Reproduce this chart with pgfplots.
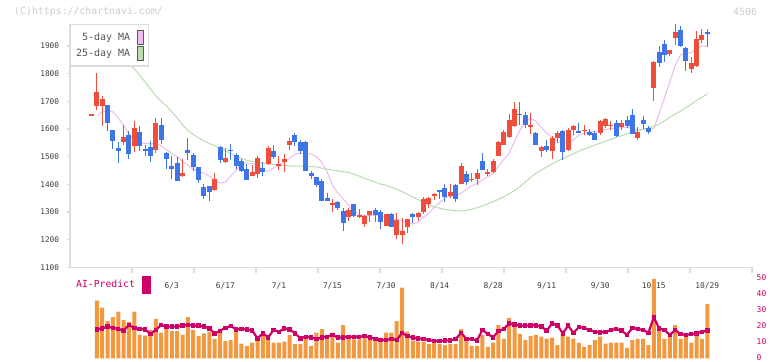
\documentclass[border=0pt]{standalone}
\usepackage{pgfplots}
\pgfplotsset{compat=1.18}
\usepackage{pgfplotstable}
\usepackage{fontspec}
\setmainfont{DejaVu Sans Mono}
\definecolor{cRed}{RGB}{240,78,60}
\definecolor{cBlue}{RGB}{62,118,232}
\definecolor{cOrange}{RGB}{242,152,62}
\definecolor{cMag}{RGB}{204,0,102}
\definecolor{cPink}{RGB}{236,188,236}
\definecolor{cGreen}{RGB}{182,222,172}
\definecolor{cPinkS}{RGB}{238,190,238}
\definecolor{cGreenS}{RGB}{188,222,176}
\definecolor{lgray}{RGB}{220,220,220}
\definecolor{tgray}{RGB}{60,60,60}
\definecolor{lgtext}{RGB}{85,85,85}
\definecolor{wm}{RGB}{204,204,204}

\pgfplotstableread{
i o h l c
0 1651 1654 1651 1654
1 1684 1804 1670 1735
2 1682 1721 1610 1709
6 1552 1616 1544 1573
8 1539 1630 1518 1605
12 1526 1640 1514 1622
17 1432 1490 1428 1440
23 1378 1440 1375 1418
25 1480 1532 1476 1497
30 1430 1470 1430 1444
31 1438 1504 1423 1494
33 1472 1538 1470 1530
35 1470 1504 1451 1473
36 1480 1509 1444 1490
37 1544 1568 1523 1558
45 1325 1346 1300 1332
48 1282 1316 1268 1308
50 1281 1310 1277 1288
51 1256 1288 1246 1286
52 1288 1304 1264 1304
55 1250 1292 1250 1292
57 1218 1296 1202 1270
58 1218 1277 1184 1231
59 1246 1274 1224 1274
61 1282 1302 1266 1296
62 1300 1356 1292 1346
63 1328 1356 1316 1350
64 1358 1368 1343 1364
67 1358 1400 1352 1374
69 1400 1476 1400 1466
71 1416 1442 1408 1420
72 1418 1454 1396 1442
74 1436 1454 1430 1444
75 1444 1490 1442 1486
76 1504 1556 1502 1554
77 1544 1598 1541 1591
78 1572 1655 1566 1634
79 1610 1698 1607 1673
82 1606 1658 1582 1616
84 1522 1538 1498 1536
86 1520 1574 1493 1568
87 1568 1592 1550 1584
89 1526 1604 1522 1598
90 1598 1615 1580 1610
92 1594 1613 1580 1597
95 1586 1634 1577 1628
96 1612 1640 1604 1637
97 1610 1630 1598 1616
99 1608 1631 1598 1622
102 1566 1608 1562 1590
105 1750 1846 1700 1844
108 1871 1886 1864 1886
109 1930 1978 1904 1949
112 1817 1859 1802 1840
113 1829 1954 1826 1925
114 1922 1961 1910 1940
}\redT

\pgfplotstableread{
i o h l c
3 1688 1688 1592 1622
4 1595 1597 1528 1556
5 1530 1554 1478 1520
7 1580 1592 1492 1509
9 1588 1610 1520 1540
10 1528 1544 1504 1520
11 1536 1556 1480 1502
13 1616 1640 1547 1562
14 1512 1516 1454 1490
15 1466 1502 1418 1455
16 1476 1500 1412 1412
18 1523 1568 1487 1514
19 1508 1514 1448 1464
20 1462 1463 1404 1416
21 1392 1400 1346 1358
22 1394 1394 1340 1372
24 1536 1540 1478 1487
26 1526 1547 1487 1522
27 1508 1514 1454 1468
28 1486 1490 1444 1450
29 1454 1472 1415 1416
32 1458 1480 1432 1444
34 1522 1544 1493 1498
38 1577 1585 1540 1552
39 1554 1560 1509 1522
40 1552 1556 1448 1448
41 1440 1448 1418 1430
42 1425 1425 1390 1398
43 1414 1418 1340 1340
44 1352 1368 1340 1340
46 1336 1340 1308 1314
47 1304 1314 1232 1262
49 1328 1328 1282 1286
53 1308 1315 1264 1288
54 1300 1307 1238 1264
56 1292 1298 1246 1246
60 1292 1298 1259 1282
65 1378 1378 1349 1372
66 1388 1402 1338 1355
68 1396 1402 1336 1349
70 1436 1448 1396 1408
73 1486 1512 1451 1451
80 1655 1696 1616 1652
81 1652 1662 1604 1616
83 1584 1588 1544 1544
85 1540 1562 1516 1526
88 1592 1598 1487 1516
91 1594 1622 1586 1586
93 1590 1601 1574 1580
94 1584 1592 1562 1562
98 1622 1634 1572 1576
100 1631 1646 1604 1610
101 1652 1672 1582 1582
103 1634 1646 1601 1619
104 1604 1612 1582 1588
106 1877 1900 1826 1840
107 1907 1922 1844 1869
110 1958 1973 1895 1900
111 1892 1898 1811 1847
115 1949 1961 1898 1943
}\blueT

\pgfplotstableread{
i v
1 1648
2 1662
3 1669
4 1662
5 1640
6 1612
7 1582
8 1560
9 1550
10 1548
11 1548
12 1546
13 1540
14 1525
15 1512
16 1500
17 1483
18 1470
19 1454
20 1448
21 1440
22 1430
23 1414
24 1405
25 1408
26 1430
27 1450
28 1475
29 1478
30 1476
31 1468
32 1452
33 1448
34 1460
35 1470
36 1480
37 1495
38 1508
39 1512
40 1513
41 1510
42 1500
43 1480
44 1445
45 1398
46 1368
47 1348
48 1325
49 1302
50 1292
51 1287
52 1287
53 1289
54 1289
55 1280
56 1276
57 1274
58 1270
59 1260
60 1257
61 1263
62 1282
63 1296
64 1318
65 1334
66 1350
67 1358
68 1360
69 1368
70 1382
71 1395
72 1404
73 1416
74 1428
75 1440
76 1465
77 1490
78 1512
79 1556
80 1596
81 1625
82 1639
83 1628
84 1606
85 1585
86 1570
87 1555
88 1548
89 1552
90 1560
91 1578
92 1585
93 1590
94 1592
95 1595
96 1598
97 1601
98 1603
99 1605
100 1605
101 1604
102 1596
103 1598
104 1600
105 1603
106 1655
107 1712
108 1770
109 1830
110 1868
111 1874
112 1876
113 1892
114 1900
115 1900
}\maFive

\pgfplotstableread{
i v
5 1885
6 1862
7 1840
8 1817
9 1795
10 1770
11 1745
12 1720
13 1700
14 1684
15 1662
16 1640
17 1615
18 1595
19 1580
20 1568
21 1557
22 1548
23 1540
24 1532
25 1522
26 1512
27 1502
28 1494
29 1487
30 1483
31 1480
32 1477
33 1474
34 1472
35 1470
36 1468
37 1467
38 1466
39 1466
40 1465
41 1464
42 1463
43 1459
44 1455
45 1452
46 1449
47 1446
48 1443
49 1437
50 1430
51 1422
52 1415
53 1408
54 1401
55 1397
56 1390
57 1382
58 1374
59 1364
60 1354
61 1345
62 1335
63 1326
64 1319
65 1314
66 1309
67 1307
68 1305
69 1304
70 1306
71 1310
72 1316
73 1322
74 1330
75 1338
76 1346
77 1355
78 1366
79 1378
80 1392
81 1408
82 1425
83 1440
84 1452
85 1463
86 1474
87 1484
88 1493
89 1502
90 1511
91 1520
92 1528
93 1535
94 1542
95 1549
96 1556
97 1563
98 1570
99 1576
100 1582
101 1588
102 1594
103 1599
104 1604
105 1610
106 1618
107 1630
108 1643
109 1654
110 1665
111 1677
112 1690
113 1703
114 1715
115 1727
}\maTwentyFive

\pgfplotstableread{
i v
1 36
2 31.6
3 23.3
4 25.8
5 29.1
6 23.9
7 22.7
8 29.1
9 14.8
10 14.1
11 17.7
12 24.6
13 16
14 18.9
15 17.1
16 17.1
17 14.8
18 25.8
19 17.7
20 13.9
21 15.6
22 16.6
23 12.1
24 16.4
25 10.8
26 11.4
27 19.1
28 9.1
29 7.7
30 9.8
31 12.9
32 15.6
33 12.9
34 9.8
35 9.8
36 10.4
37 14.6
38 8.9
39 8.9
40 12.9
41 7.7
42 16
43 18.3
44 12.3
45 16
46 9.8
47 20.8
48 13.9
49 11.9
50 11.9
51 12.9
52 13.5
53 11.9
54 13
55 16
56 16
57 23.3
58 44.2
59 16.6
60 11
61 10.4
62 10.4
63 8.9
64 10.4
65 8.9
66 8.3
67 8.9
68 8.9
69 18.3
70 12.1
71 7.7
72 7.7
73 14.6
74 7.1
75 9.8
76 20.8
77 12.1
78 25.2
79 20.4
80 15.2
81 11.4
82 13.9
83 14.6
84 13.5
85 12.3
86 12.9
87 8.3
88 15.2
89 13.5
90 12.3
91 9.8
92 7.1
93 8.3
94 11.4
95 13.5
96 9.1
97 9.8
98 9.8
99 9.8
100 6.5
101 11.4
102 12.1
103 12.1
104 8.3
105 49.6
106 18.3
107 12.1
108 13.9
109 20.8
110 12.1
111 13.9
112 9.8
113 14.6
114 12.1
115 33.9
}\volT

\pgfplotstableread{
i v
1 18.1
2 18.7
3 19.8
4 19.1
5 18.3
6 17.4
7 20.8
8 19.1
9 18.3
10 18.1
11 15.2
12 17.7
13 20.8
14 19.8
15 19.8
16 19.8
17 20.6
18 20.8
19 20.6
20 20.4
21 19.8
22 18.7
23 15.6
24 17.1
25 19.1
26 20.2
27 18.1
28 18.3
29 18.1
30 17.3
31 12.5
32 15.6
33 13.1
34 17.7
35 16.6
36 18.7
37 18.1
38 15.6
39 12.5
40 13.5
41 13.1
42 12.1
43 13.1
44 13.5
45 14.6
46 12.9
47 13.1
48 13.5
49 13.5
50 13.5
51 13.9
52 13.1
53 12.1
54 11.4
55 11.4
56 12.1
57 11.4
58 16
59 13.9
60 12.9
61 12.5
62 12.1
63 11.4
64 10.8
65 10.8
66 11.2
67 11.2
68 11.9
69 16
70 12.1
71 11.9
72 11.2
73 17.7
74 15.2
75 13.1
76 17.1
77 18.3
78 21.8
79 21.2
80 20.4
81 20.4
82 20.6
83 20.6
84 19.8
85 17.3
86 21.8
87 20.6
88 15.6
89 20.4
90 16
91 19.4
92 19.1
93 17.7
94 16.6
95 16.2
96 16.6
97 17.7
98 18.3
99 17.3
100 14.6
101 19.1
102 18.3
103 17.7
104 16
105 25.6
106 18.7
107 17.7
108 14.6
109 17.7
110 15.2
111 14.6
112 15.2
113 15.6
114 16.6
115 17.3
}\aiT

\begin{document}
\begin{tikzpicture}[x=1bp,y=1bp]
\useasboundingbox (0,0) rectangle (772,361);

% helper axis: grey x tick marks
\begin{axis}[
  at={(70bp,93.6bp)}, anchor=south west,
  width=682.3bp, height=243.5bp, scale only axis,
  xmin=-4.015, xmax=123.4, ymin=0, ymax=1,
  axis x line*=bottom, axis y line=none,
  axis line style={draw=none},
  xtick={7.563,19.141,30.719,42.297,53.875,65.453,77.031,88.609,100.187,111.765,123.343},
  xticklabels={}, tick align=outside, major tick length=6bp,
  xtick style={draw=lgray, line width=1.3bp},
]
\end{axis}

% main candle axis
\begin{axis}[
  at={(70bp,93.6bp)}, anchor=south west,
  width=682.3bp, height=243.5bp, scale only axis,
  xmin=-4.015, xmax=123.4, ymin=1100, ymax=1980,
  axis x line*=bottom, axis y line*=left,
  axis line style={draw=lgray, line width=1.3bp, -},
  xtick={15,25,35,45,55,65,75,85,95,105,115},
  xticklabels={6/3,6/17,7/1,7/15,7/30,8/14,8/28,9/11,9/30,10/15,10/29},
  xtick style={draw=none},
  ytick={1100,1200,...,1900},
  ytick style={draw=lgray, line width=1.3bp},
  tick align=outside, major tick length=3.3bp,
  yticklabel style={font=\fontsize{7.8}{9}\selectfont, text=tgray, inner sep=0pt, anchor=east, xshift=-7.4bp},
  xticklabel style={font=\fontsize{7.9}{9}\selectfont, text=tgray, inner sep=0pt, anchor=center, yshift=-15.3bp},
  /pgf/number format/assume math mode=true,
  /pgf/number format/1000 sep={},
  legend style={at={(axis description cs:0,1)}, anchor=north west,
    draw=lgray, line width=1.2bp, fill=white,
    font=\fontsize{10}{12}\selectfont, text=lgtext,
    inner xsep=4.5bp, inner ysep=5.5bp, row sep=1bp, column sep=6bp,
    nodes={inner sep=1bp}},
  legend plot pos=right, legend cell align=right,
]
\addplot[cPink, line width=1bp, mark=none,
  legend image code/.code={\filldraw[fill=cPinkS, draw=black!65, line width=0.8bp] (0bp,-7bp) rectangle (6bp,7bp);}]
  table[x=i, y=v] {\maFive};
\addlegendentry{5-day MA}
\addplot[cGreen, line width=1bp, mark=none,
  legend image code/.code={\filldraw[fill=cGreenS, draw=black!65, line width=0.8bp] (0bp,-7bp) rectangle (6bp,7bp);}]
  table[x=i, y=v] {\maTwentyFive};
\addlegendentry{25-day MA}

% wicks
\addplot[draw=none, mark=none, forget plot,
  error bars/.cd, y dir=both, y explicit, error mark=none,
  error bar style={draw=cRed, line width=1bp}]
  table[x=i, y expr=(\thisrow{h}+\thisrow{l})/2, y error expr=(\thisrow{h}-\thisrow{l})/2] {\redT};
\addplot[draw=none, mark=none, forget plot,
  error bars/.cd, y dir=both, y explicit, error mark=none,
  error bar style={draw=cBlue, line width=1bp}]
  table[x=i, y expr=(\thisrow{h}+\thisrow{l})/2, y error expr=(\thisrow{h}-\thisrow{l})/2] {\blueT};
% bodies
\addplot[draw=none, mark=none, forget plot,
  error bars/.cd, y dir=both, y explicit, error mark=none,
  error bar style={draw=cRed, line width=5bp}]
  table[x=i, y expr=(\thisrow{o}+\thisrow{c})/2, y error expr={max(abs(\thisrow{c}-\thisrow{o})/2,1.6)}] {\redT};
\addplot[draw=none, mark=none, forget plot,
  error bars/.cd, y dir=both, y explicit, error mark=none,
  error bar style={draw=cBlue, line width=5bp}]
  table[x=i, y expr=(\thisrow{o}+\thisrow{c})/2, y error expr={max(abs(\thisrow{c}-\thisrow{o})/2,1.6)}] {\blueT};
\end{axis}

% lower AI-Predict axis
\begin{axis}[
  at={(70bp,2.7bp)}, anchor=south west,
  width=682.3bp, height=80bp, scale only axis,
  xmin=-4.015, xmax=123.4, ymin=0, ymax=50,
  axis x line=none, axis y line*=right,
  y axis line style={draw=none},
  ytick={0,10,...,50}, ytick style={draw=none}, major tick length=0pt,
  yticklabel style={font=\fontsize{8}{9}\selectfont, text=cMag, anchor=west, inner sep=0pt, xshift=4.2bp, yshift=1.2bp},
  /pgf/number format/assume math mode=true,
  legend style={at={(axis description cs:0,1)}, anchor=west, xshift=5bp, yshift=-6.4bp,
    draw=none, fill=none, font=\fontsize{9.8}{11}\selectfont, text=cMag,
    inner sep=0pt, column sep=6bp, nodes={inner sep=1bp}},
  legend plot pos=right,
  clip=false,
]
\addplot[ybar, bar width=4bp, fill=cOrange, draw=none, forget plot] table[x=i, y=v] {\volT};
\addplot[cMag, line width=2.2bp, mark=square*, mark size=1.1bp,
  legend image code/.code={\fill[cMag] (0bp,-8bp) rectangle (7bp,8bp);}]
  table[x=i, y=v] {\aiT};
\addlegendentry{AI-Predict}
\end{axis}

\node[anchor=west, text=wm, font=\fontsize{9.9}{11}\selectfont, inner sep=0pt] at (14,349) {(C)https://chartnavi.com/};
\node[anchor=east, text=wm, font=\fontsize{10}{11}\selectfont, inner sep=0pt] at (757.3,349) {4506};
\end{tikzpicture}
\end{document}
